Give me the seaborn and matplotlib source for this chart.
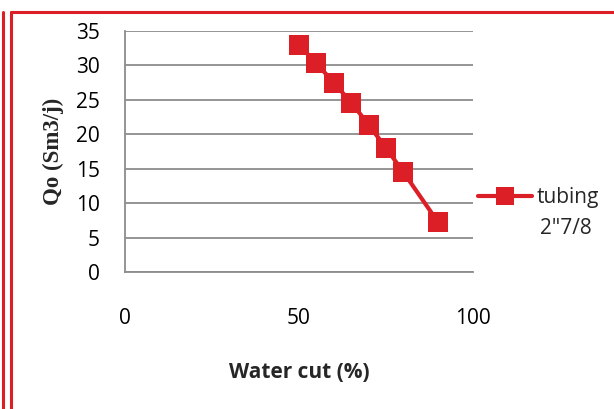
import matplotlib
matplotlib.use("Agg")
import matplotlib.pyplot as plt
from matplotlib.lines import Line2D
import seaborn as sns
import pandas as pd

water_cut = [50, 55, 60, 65, 70, 75, 80, 90]
qo = [33.0, 30.3, 27.5, 24.6, 21.4, 18.0, 14.5, 7.2]
series_name = 'tubing\n2"7/8'
x_ticks = [0, 50, 100]
y_ticks = [0, 5, 10, 15, 20, 25, 30, 35]

sns.set_style("white")
plt.rcParams['font.family'] = ['Open Sans', 'DejaVu Sans']

RED = "#DC1F27"
GRID = "#8C8C8C"
FS = 15

df = pd.DataFrame({"Water cut (%)": water_cut, "Qo": qo, "series": series_name})

fig = plt.figure(figsize=(6.14, 4.09), dpi=100)
ax = fig.add_axes([125/614, 1-272/409, (473-125)/614, (272-31)/409])

sns.lineplot(data=df, x="Water cut (%)", y="Qo", ax=ax, color=RED, linewidth=3,
             marker="s", markersize=14, markeredgewidth=0, legend=False)

ax.set_xlim(0, 100)
ax.set_ylim(0, 35)
ax.set_xticks(x_ticks)
ax.set_yticks(y_ticks)
ax.yaxis.grid(True, color=GRID, linewidth=1.3)
ax.set_axisbelow(True)
for s in ["top", "right"]:
    ax.spines[s].set_visible(False)
for s in ["left", "bottom"]:
    ax.spines[s].set_color(GRID)
    ax.spines[s].set_linewidth(1.3)
ax.tick_params(axis="both", which="both", direction="out", color=GRID, width=1.3,
               length=6, labelsize=FS, labelcolor="black")
ax.tick_params(axis="x", pad=20)
ax.tick_params(axis="y", pad=12)

ax.set_xlabel("Water cut (%)", fontsize=FS, fontweight="bold", labelpad=24)
ax.set_ylabel("Qo (Sm3/j)", fontsize=16.5, fontweight="bold",
              family=["Liberation Serif", "DejaVu Serif"], labelpad=9)

name_lines = series_name.split("\n")
handle = Line2D([], [], color=RED, linewidth=3, marker="s", markersize=13,
                markeredgewidth=0)
fig.legend([handle], [name_lines[0]], loc="center left",
           bbox_to_anchor=(478/614, 1-198/409), frameon=False, fontsize=FS,
           handlelength=2.6, handletextpad=0.2, borderaxespad=0, borderpad=0)
fig.text(540/614, 1-228/409, name_lines[1], fontsize=FS, ha="left", va="center")

# decorative red frame
fig.add_artist(Line2D([3/614, 3/614], [0, 1-12/409], color=RED, linewidth=2.2,
                      transform=fig.transFigure))
fig.add_artist(Line2D([11/614, 11/614], [0, 1-12/409], color=RED, linewidth=2.2,
                      transform=fig.transFigure))
fig.add_artist(Line2D([11/614, 1], [1-12/409, 1-12/409], color=RED, linewidth=2.2,
                      transform=fig.transFigure))

fig.savefig("out.png", dpi=100)
